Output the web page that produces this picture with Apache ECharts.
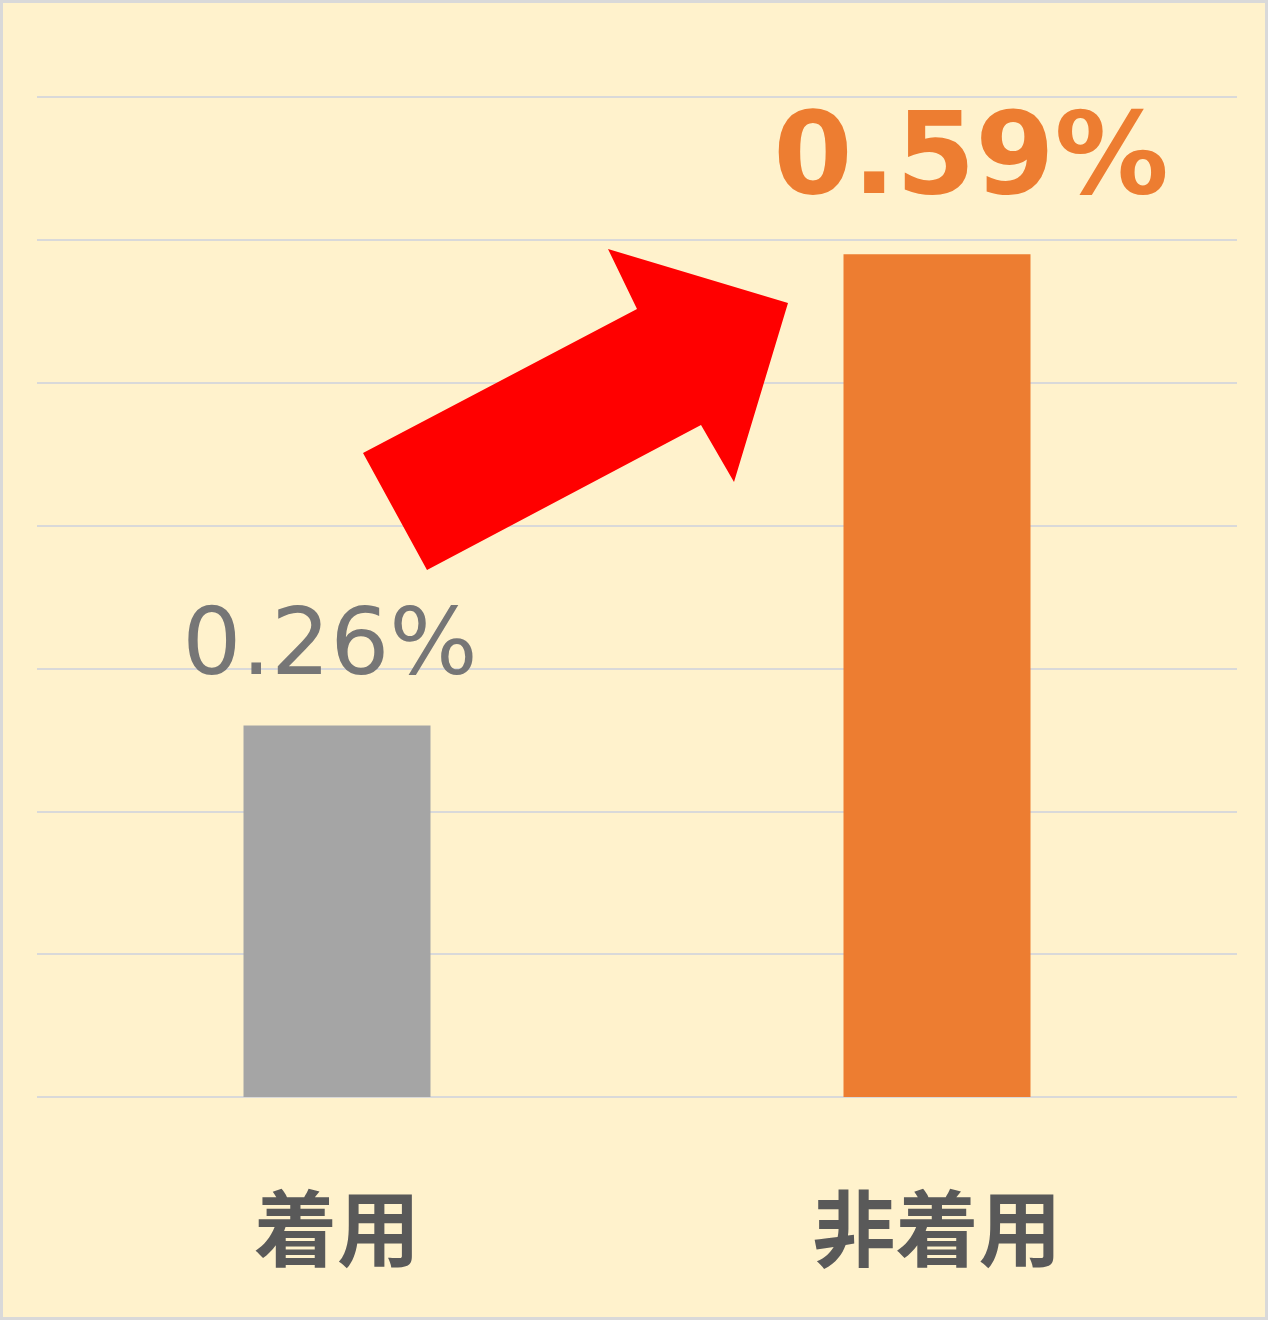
<!DOCTYPE html>
<html>
<head>
<meta charset="utf-8">
<script src="https://cdn.jsdelivr.net/npm/echarts@6/dist/echarts.min.js"></script>
<style>
  html, body { margin: 0; padding: 0; background: #FFF2CC; }
  #container { width: 1268px; height: 1320px; }
</style>
</head>
<body>
<div id="container"></div>
<script>
var categories = ['着用', '非着用'];
var rates = [0.26, 0.59];
var barColors = ['#A5A5A5', '#ED7D31'];
var labelColors = ['#767676', '#ED7D31'];

var dom = document.getElementById('container');
var myChart = echarts.init(dom);

var option = {
    backgroundColor: '#FFF2CC',
    animation: false,
    grid: {
        left: 37,
        right: 31,
        top: 97,
        bottom: 223
    },
    xAxis: {
        type: 'category',
        data: categories,
        axisLine: { show: false },
        axisTick: { show: false },
        axisLabel: {
            color: '#595959',
            fontSize: 83,
            fontWeight: 'bold',
            fontFamily: 'Noto Sans CJK JP',
            margin: 90
        }
    },
    yAxis: {
        type: 'value',
        min: 0,
        max: 0.7,
        interval: 0.1,
        axisLabel: { show: false },
        axisLine: { show: false },
        axisTick: { show: false },
        splitLine: {
            lineStyle: { color: '#D9D9D9', width: 2 }
        }
    },
    series: [{
        type: 'bar',
        barWidth: 187,
        data: [
            {
                value: rates[0],
                itemStyle: { color: barColors[0] },
                label: {
                    color: labelColors[0],
                    fontSize: 93,
                    fontWeight: 'normal',
                    offset: [-7, 0],
                    distance: 29
                }
            },
            {
                value: rates[1],
                itemStyle: { color: barColors[1] },
                label: {
                    color: labelColors[1],
                    fontSize: 114,
                    fontWeight: 'bold',
                    offset: [34, 0],
                    distance: 34
                }
            }
        ],
        label: {
            show: true,
            position: 'top',
            fontFamily: 'DejaVu Sans',
            formatter: function (p) { return p.value.toFixed(2) + '%'; }
        }
    }],
    graphic: [
        {
            type: 'rect',
            shape: { x: 1.5, y: 1.5, width: 1265, height: 1317 },
            style: { fill: 'none', stroke: '#D9D9D9', lineWidth: 3 },
            z: 100
        },
        {
            // red arrow annotation
            type: 'polygon',
            shape: {
                points: [[363, 453], [427, 570], [701, 425], [734, 482],
                         [788, 303], [608, 249], [637, 309]]
            },
            style: { fill: '#FF0000' },
            z: 100
        }
    ]
};

myChart.setOption(option, true);
</script>
</body>
</html>
